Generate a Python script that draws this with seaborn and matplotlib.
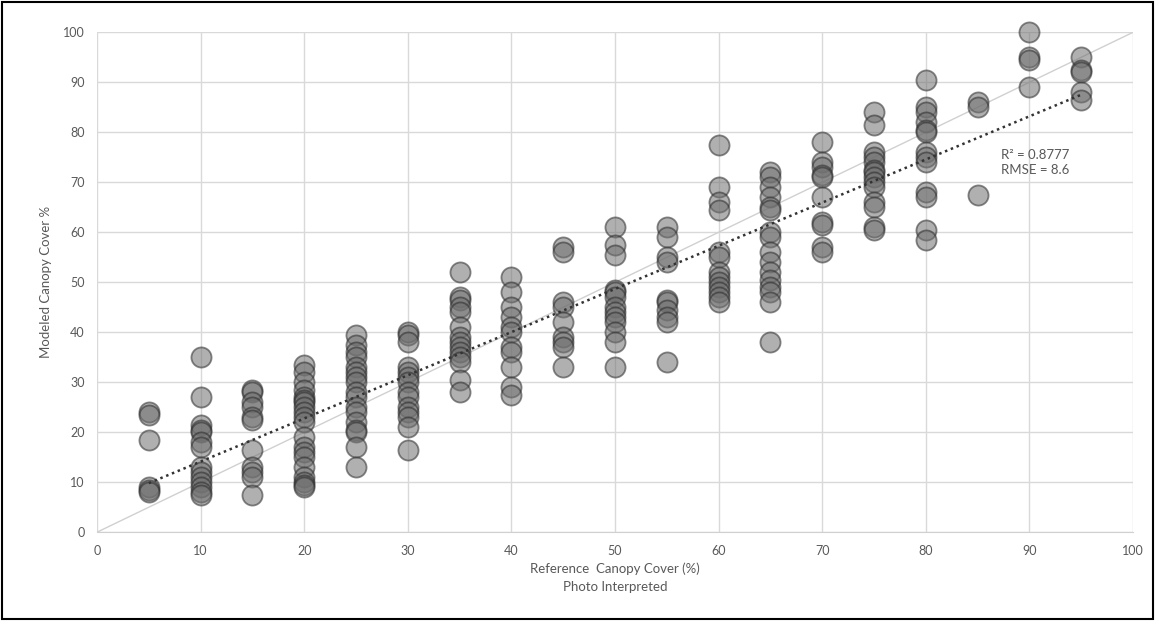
import numpy as np
import pandas as pd
import matplotlib
matplotlib.use("Agg")
import matplotlib.pyplot as plt
from matplotlib.patches import Rectangle
import seaborn as sns

# ---- data ----
ref_5 = [24, 23.5, 18.5, 9, 8.5, 8]
ref_10 = [35, 27, 21.5, 20.5, 20, 18, 17, 13, 12, 11, 10, 9, 8, 7.5]
ref_15 = [28.5, 28, 26, 25, 23, 22.5, 16.5, 13, 12, 11, 7.5]
ref_20 = [33.5, 32, 30, 28.5, 27, 26.5, 26, 25, 24, 23, 22, 19, 17, 16, 15, 13, 11, 10, 9.5, 9]
ref_25 = [39.5, 37.5, 36, 35, 33, 32, 31, 30, 28, 27, 25, 24, 22, 20.5, 20, 17, 13]
ref_30 = [40, 39.5, 38, 33, 32, 31, 30, 28, 27, 25, 24, 23, 21, 16.5]
ref_35 = [52, 47, 46.5, 45, 44, 41, 39, 38, 37, 36, 35, 34, 30.5, 28]
ref_40 = [51, 48, 45, 43, 41, 40, 37, 36, 33, 29, 27.5]
ref_45 = [57, 56, 46, 45, 42, 39, 38, 37, 33]
ref_50 = [61, 57.5, 55.5, 48.5, 48, 47, 45, 44, 43, 42, 40, 38, 33]
ref_55 = [61, 59, 55, 54, 46.5, 46, 44.5, 43, 42, 34]
ref_60 = [77.5, 69, 66, 64.5, 56, 55, 52, 51, 50, 49, 48, 47, 46]
ref_65 = [72, 71, 69, 67, 65, 64.5, 60, 59, 56, 54, 52, 50.5, 49, 48, 46, 38]
ref_70 = [78, 74, 73, 71.5, 71, 67, 62, 61.5, 57, 56]
ref_75 = [84, 81.5, 76, 75, 74, 72.5, 72, 71, 70, 69, 66, 65, 61, 60.5]
ref_80 = [90.5, 85, 84, 82, 80.5, 80, 76, 75, 74, 68, 67, 60.5, 58.5]
ref_85 = [86, 85, 67.5]
ref_90 = [100, 95, 94.5, 89]
ref_95 = [95, 92.5, 92, 88, 86.5]

columns = {5: ref_5, 10: ref_10, 15: ref_15, 20: ref_20, 25: ref_25, 30: ref_30,
           35: ref_35, 40: ref_40, 45: ref_45, 50: ref_50, 55: ref_55, 60: ref_60,
           65: ref_65, 70: ref_70, 75: ref_75, 80: ref_80, 85: ref_85, 90: ref_90,
           95: ref_95}

rows = []
for ref, vals in columns.items():
    for v in vals:
        rows.append((ref, v))
df = pd.DataFrame(rows, columns=["reference", "modeled"])

one_to_one = pd.DataFrame({"x": [0, 100], "y": [0, 100]})
stats_text = "R² = 0.8777\nRMSE = 8.6"

# ---- plot ----
sns.set_style("white")
plt.rcParams['font.family'] = ['Lato', 'DejaVu Sans']

fig = plt.figure(figsize=(11.55, 6.21), dpi=100)
ax = fig.add_axes([0.084, 0.143, 0.897, 0.805])

sns.lineplot(data=one_to_one, x="x", y="y", color="#d0d0d0", lw=1.0, ax=ax, zorder=1)
sns.scatterplot(data=df, x="reference", y="modeled", s=210, color="#707070",
                alpha=0.55, edgecolor="#2a2a2a", linewidth=1.3, ax=ax, zorder=3,
                clip_on=False)
sns.regplot(data=df, x="reference", y="modeled", scatter=False, ci=None, truncate=True,
            line_kws={"color": "#333333", "lw": 1.8, "ls": (0, (1, 1.5)), "zorder": 4}, ax=ax)

ax.set_xlim(0, 100)
ax.set_ylim(0, 100)
ax.set_xticks(range(0, 101, 10))
ax.set_yticks(range(0, 101, 10))
ax.grid(True, color="#d9d9d9", lw=1.0)
ax.set_axisbelow(True)
for side in ["top", "right", "left"]:
    ax.spines[side].set_visible(False)
ax.spines["bottom"].set_color("#d0d0d0")
ax.tick_params(axis="both", length=0, labelsize=9, colors="#595959", pad=9)

ax.set_xlabel("Reference  Canopy Cover (%)\nPhoto Interpreted", fontsize=9.5, color="#595959",
              labelpad=4, linespacing=1.6)
ax.set_ylabel("Modeled Canopy Cover %", fontsize=9.5, color="#595959", labelpad=8)

ax.text(87.3, 74.0, stats_text, fontsize=9.5, color="#595959", va="center", ha="left",
        linespacing=1.3)

fig.add_artist(Rectangle((0.002, 0.003), 0.996, 0.994, transform=fig.transFigure,
                         fill=False, edgecolor="black", lw=1.5))

fig.savefig("out.png", dpi=100)
